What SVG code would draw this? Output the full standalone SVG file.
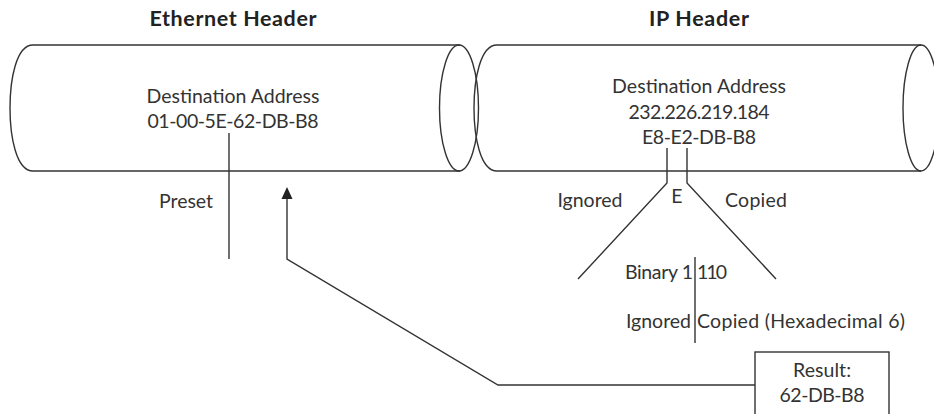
<svg xmlns="http://www.w3.org/2000/svg" width="934" height="414" viewBox="0 0 934 414">
<defs>
<style>
.t{font-family:Lato,"Open Sans","DejaVu Sans",sans-serif;font-size:19.5px;fill:#333;text-anchor:middle}
.s{text-anchor:start}
.e{text-anchor:end}
.h{font-family:Lato,"Open Sans","DejaVu Sans",sans-serif;font-size:21.5px;font-weight:bold;fill:#222;text-anchor:middle}
.ln{fill:none;stroke:#333;stroke-width:1.4}
.bt{fill:none;stroke:#666;stroke-width:2.2}
.ah{fill:#222}
</style>
</defs>
<rect width="934" height="414" fill="#fff"/>
<g id="ethernet">
<text class="h" x="233" y="26" textLength="167" lengthAdjust="spacing">Ethernet Header</text>
<path class="ln" d="M460,45 L33,45 C16,45 10,80 10,108 C10,136 16,171 33,171"/>
<line class="bt" x1="33" y1="171" x2="460" y2="171"/>
<ellipse class="ln" cx="459" cy="108" rx="19.5" ry="63"/>
<text class="t" x="233" y="103" textLength="173" lengthAdjust="spacing">Destination Address</text>
<text class="t" x="233" y="128" textLength="171" lengthAdjust="spacing">01-00-5E-62-DB-B8</text>
<text class="t" x="186" y="208" textLength="54" lengthAdjust="spacing">Preset</text>
</g>
<g id="ip">
<text class="h" x="699" y="26" textLength="100" lengthAdjust="spacing">IP Header</text>
<path class="ln" d="M921,45 L497,45 C480,45 474,80 474,108 C474,136 480,171 497,171"/>
<line class="bt" x1="497" y1="171" x2="921" y2="171"/>
<ellipse class="ln" cx="921" cy="108" rx="18" ry="63"/>
<text class="t" x="699" y="93" textLength="174" lengthAdjust="spacing">Destination Address</text>
<text class="t" x="699" y="119" textLength="141" lengthAdjust="spacing">232.226.219.184</text>
<text class="t" x="699" y="144" textLength="114" lengthAdjust="spacing">E8-E2-DB-B8</text>
</g>
<g id="split">
<text class="t" x="677" y="203">E</text>
<text class="t" x="590" y="207" textLength="65" lengthAdjust="spacing">Ignored</text>
<text class="t" x="756" y="207" textLength="62" lengthAdjust="spacing">Copied</text>
<text class="t e" x="693" y="279" textLength="68" lengthAdjust="spacing">Binary 1</text>
<text class="t s" x="697" y="279" textLength="30" lengthAdjust="spacing">110</text>
<text class="t e" x="691" y="328" textLength="65" lengthAdjust="spacing">Ignored</text>
<text class="t s" x="697" y="328" textLength="208" lengthAdjust="spacing">Copied (Hexadecimal 6)</text>
</g>
<g id="result">
<rect class="ln" x="755" y="352" width="134" height="66" fill="#fff"/>
<text class="t" x="822" y="377" textLength="58" lengthAdjust="spacing">Result:</text>
<text class="t" x="822" y="402" textLength="85" lengthAdjust="spacing">62-DB-B8</text>
</g>
<g id="connectors">
<line class="ln" x1="229" y1="133" x2="229" y2="259"/>
<polyline class="ln" points="667,148 667,183 578,279"/>
<polyline class="ln" points="687,148 687,183 776,279"/>
<line class="ln" x1="695" y1="257" x2="695" y2="343"/>
<polyline class="ln" points="755,385 498,385 287,259 287,197"/>
<polygon class="ah" points="287,187 281.5,199 292.5,199"/>
</g>
</svg>
